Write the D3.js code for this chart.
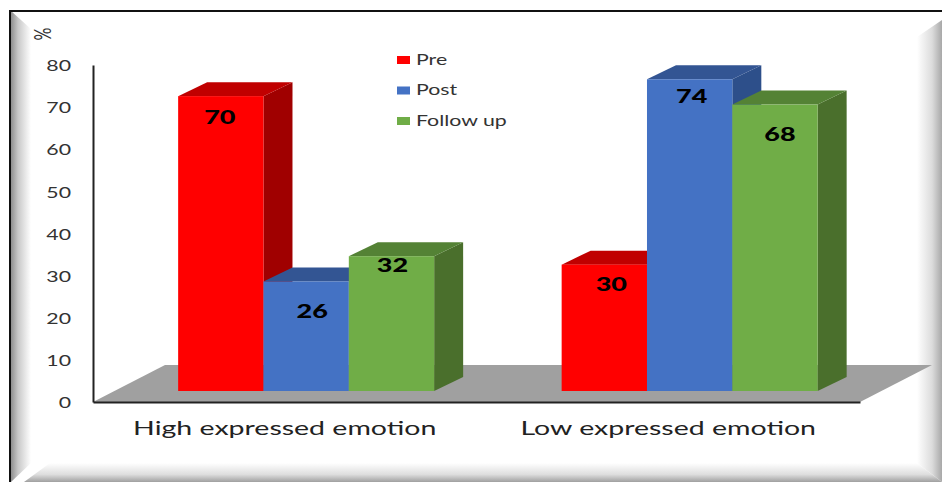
<!DOCTYPE html>
<html>
<head>
<meta charset="utf-8">
<script src="https://cdn.jsdelivr.net/npm/d3@7"></script>
<style>
  html, body { margin: 0; padding: 0; background: #fff; }
  svg { display: block; }
  text { font-family: Lato, "Open Sans", sans-serif; }
</style>
</head>
<body>
<script>
// Scores by expressed-emotion group and assessment time
const categories = ["High expressed emotion", "Low expressed emotion"];
const seriesNames = ["Pre", "Post", "Follow up"];
const preValues = [70, 30];
const postValues = [26, 74];
const followUpValues = [32, 68];
const yTicks = [0, 10, 20, 30, 40, 50, 60, 70, 80];

const seriesValues = [preValues, postValues, followUpValues];
const faceColors = ["#ff0000", "#4472c4", "#70ad47"];
const topColors = ["#c00000", "#335593", "#548235"];
const sideColors = ["#a00000", "#2d4f8a", "#4a6f2c"];

const W = 942, H = 482;
const svg = d3.select("body").append("svg").attr("width", W).attr("height", H);
const defs = svg.append("defs");

// The whole figure is set in a horizontally stretched face
function stretch(selection, factor) {
  selection.each(function () {
    const len = this.getComputedTextLength();
    d3.select(this).attr("textLength", len * factor).attr("lengthAdjust", "spacingAndGlyphs");
  });
}

function gradient(id, x1, y1, x2, y2, stops) {
  const g = defs.append("linearGradient").attr("id", id)
    .attr("x1", x1).attr("y1", y1).attr("x2", x2).attr("y2", y2);
  stops.forEach(([o, c]) => g.append("stop").attr("offset", o).attr("stop-color", c));
}
gradient("bevelLeft", 0, 0, 1, 0, [[0, "#8f8f8f"], [0.35, "#c8c8c8"], [1, "#ffffff"]]);
gradient("bevelRight", 0, 0, 1, 0, [[0, "#ffffff"], [0.6, "#dcdcdc"], [1, "#a8a8a8"]]);
gradient("bevelBottom", 0, 0, 0, 1, [[0, "#ffffff"], [0.6, "#dedede"], [1, "#a0a0a0"]]);

// Picture frame: soft bevels on three sides and a dark rule on the top and left
const line = d3.line();
const bevels = [
  { pts: [[11, 11], [31, 29], [31, 463], [11, 482]], fill: "url(#bevelLeft)" },
  { pts: [[917, 37], [942, 20], [942, 482], [917, 463]], fill: "url(#bevelRight)" },
  { pts: [[50, 463], [917, 463], [942, 482], [24, 482]], fill: "url(#bevelBottom)" }
];
svg.selectAll("path.bevel").data(bevels).join("path").attr("class", "bevel")
  .attr("d", d => line(d.pts) + "Z").attr("fill", d => d.fill);
svg.append("path").attr("d", line([[10, 482], [10, 11], [942, 11]]))
  .attr("fill", "none").attr("stroke", "#111").attr("stroke-width", 2);

// Scales share the axis frame; the 3D plot sits on a receding floor
const x0 = d3.scaleBand().domain(categories).range([93, 860]);
const innerWidth = 256;
const y = d3.scaleLinear().domain([0, 80]).range([402, 65]);
const frontLift = 11, frontShift = 21.4, depthX = 29, depthY = 14;
const x1 = d3.scaleBand().domain(seriesNames).range([0, innerWidth]);
const barY = v => y(v) - frontLift;
const barLeft = (c, s) => x0(c) + (x0.bandwidth() - innerWidth) / 2 + frontShift + x1(s);

// Floor
const floorDx = 72, floorDy = 37;
svg.append("path")
  .attr("d", line([[x0.range()[0], y(0)], [x0.range()[0] + floorDx, y(0) - floorDy],
                   [x0.range()[1] + floorDx, y(0) - floorDy], [x0.range()[1], y(0)]]) + "Z")
  .attr("fill", "#a0a0a0");

// Axes
const yAxis = d3.axisLeft(y).tickValues(yTicks).tickSize(0).tickPadding(22);
const gy = svg.append("g").attr("transform", "translate(93,0)").call(yAxis);
gy.select(".domain").attr("stroke", "#222").attr("stroke-width", 2);
gy.selectAll("text").attr("font-size", 15).attr("fill", "#333").attr("dy", "0.38em")
  .call(stretch, 1.42);

const xAxis = d3.axisBottom(x0).tickSize(0).tickPadding(20);
const gx = svg.append("g").attr("transform", `translate(0,${y(0)})`).call(xAxis);
gx.select(".domain").attr("stroke", "#222").attr("stroke-width", 2);
gx.selectAll("text").attr("font-size", 19).attr("fill", "#222").attr("dy", "0.71em")
  .call(stretch, 1.5);

svg.append("text").text("%")
  .attr("transform", "translate(43,34) scale(1.4,1) rotate(-90)")
  .attr("font-size", 16).attr("fill", "#333").attr("text-anchor", "middle").attr("dy", "0.35em");

// Bars, painted back-to-front per group so each face overlaps the neighbour's side
const marks = [];
categories.forEach((c, ci) => seriesNames.forEach((s, si) => marks.push({
  c, s, si, value: seriesValues[si][ci]
})));
const bars = svg.selectAll("g.bar").data(marks).join("g").attr("class", "bar");
bars.append("path").attr("fill", d => sideColors[d.si]).attr("d", d => {
  const r = barLeft(d.c, d.s) + x1.bandwidth(), t = barY(d.value), b = barY(0);
  return line([[r, t], [r + depthX, t - depthY], [r + depthX, b - depthY], [r, b]]) + "Z";
});
bars.append("path").attr("fill", d => topColors[d.si]).attr("d", d => {
  const l = barLeft(d.c, d.s), r = l + x1.bandwidth(), t = barY(d.value);
  return line([[l, t], [l + depthX, t - depthY], [r + depthX, t - depthY], [r, t]]) + "Z";
});
bars.append("rect").attr("fill", d => faceColors[d.si])
  .attr("x", d => barLeft(d.c, d.s)).attr("width", x1.bandwidth())
  .attr("y", d => barY(d.value)).attr("height", d => barY(0) - barY(d.value));

// Value labels, each nudged by hand to clear its bar's edges
const labelCenterY = [[117, 284], [311, 96], [265, 134]];
const labelNudgeX = [[-1, 7], [6, 2], [1, 5]];
bars.append("text").text(d => d.value)
  .attr("x", d => barLeft(d.c, d.s) + x1.bandwidth() / 2 + labelNudgeX[d.si][categories.indexOf(d.c)])
  .attr("y", d => labelCenterY[d.si][categories.indexOf(d.c)])
  .attr("dy", "0.36em").attr("text-anchor", "middle")
  .attr("font-size", 19).attr("font-weight", 900).attr("fill", "#000")
  .call(stretch, 1.42);

// Legend
const legendY = d3.scalePoint().domain(seriesNames).range([60, 121]);
const legend = svg.selectAll("g.key").data(seriesNames).join("g").attr("class", "key")
  .attr("transform", s => `translate(397,${legendY(s)})`);
legend.append("rect").attr("y", -4).attr("width", 13).attr("height", 8)
  .attr("fill", (s, i) => faceColors[i]);
legend.append("text").text(s => s).attr("x", 19).attr("dy", "0.33em")
  .attr("font-size", 15).attr("fill", "#333")
  .call(stretch, 1.42);
</script>
</body>
</html>
